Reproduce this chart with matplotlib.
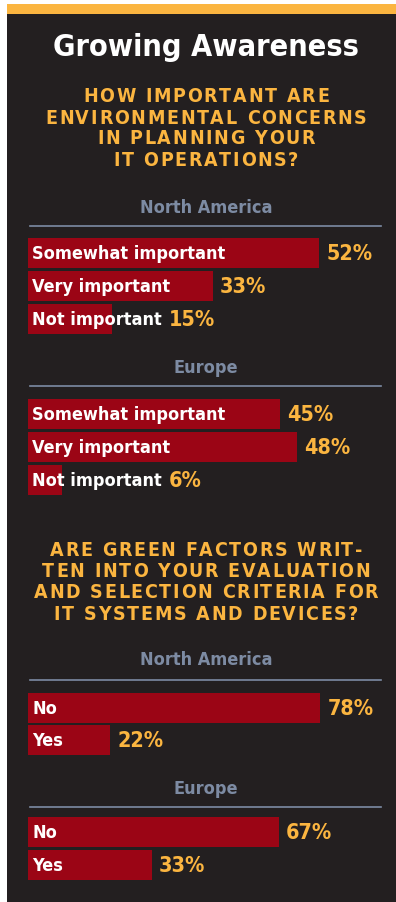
import matplotlib
matplotlib.use('Agg')
import matplotlib.pyplot as plt
from matplotlib.patches import Rectangle
from matplotlib import font_manager

# data
q1_lines = ["HOW IMPORTANT ARE", "ENVIRONMENTAL CONCERNS", "IN PLANNING YOUR", "IT OPERATIONS?"]
q1_labels = ["Somewhat important", "Very important", "Not important"]
q1_north_america = [52, 33, 15]
q1_europe = [45, 48, 6]

q2_lines = ["ARE GREEN FACTORS WRIT-", "TEN INTO YOUR EVALUATION",
            "AND SELECTION CRITERIA FOR", "IT SYSTEMS AND DEVICES?"]
q2_labels = ["No", "Yes"]
q2_north_america = [78, 22]
q2_europe = [67, 33]

DARK = '#231f20'
YELLOW = '#fbb540'
RED = '#9b0515'
GREY = '#7d8ba3'

fonts = font_manager.fontManager.ttflist
has_cond = any(f.name == 'DejaVu Sans' and f.stretch == 'condensed' for f in fonts)
plt.rcParams['font.family'] = ['DejaVu Sans']
plt.rcParams['font.stretch'] = 'condensed' if has_cond else 'normal'

W, H = 396, 903
fig = plt.figure(figsize=(W / 100, H / 100), dpi=100, facecolor='white')
renderer = fig.canvas.get_renderer()

def fx(px):
    return px / W

def fy(py):
    return 1 - py / H

# panel + top stripe
fig.patches.append(Rectangle((fx(7), 0), fx(389), fy(15), transform=fig.transFigure,
                             facecolor=DARK, edgecolor='none', zorder=-2))
fig.patches.append(Rectangle((fx(7), fy(15)), fx(389), 10 / H, transform=fig.transFigure,
                             facecolor=YELLOW, edgecolor='none', zorder=-2))

fig.text(fx(206), fy(47), "Growing Awareness", color='white', fontsize=22,
         fontweight='bold', ha='center', va='center')

# letter-spaced question lines, placed char by char
def spaced_line(text, xc, y, spacing, **kw):
    widths = []
    for ch in text:
        t = fig.text(0, 0, ch if ch != ' ' else 'I', **kw)
        w = t.get_window_extent(renderer).width
        widths.append(w)
        t.remove()
    total = sum(widths) + spacing * (len(text) - 1)
    x = xc - total / 2
    for ch, w in zip(text, widths):
        if ch != ' ':
            fig.text(fx(x), fy(y), ch, ha='left', va='center', **kw)
        x += w + spacing

qkw = dict(color=YELLOW, fontsize=14, fontweight='bold')
for i, line in enumerate(q1_lines):
    spaced_line(line, 206, 97 + i * 21, 1.7, **qkw)
for i, line in enumerate(q2_lines):
    spaced_line(line, 206, 551 + i * 21, 1.7, **qkw)

def header(name, y_text, y_line):
    fig.text(fx(206), fy(y_text), name, color=GREY, fontsize=13, fontweight='bold',
             ha='center', va='center')
    fig.add_artist(plt.Line2D([fx(30), fx(381)], [fy(y_line), fy(y_line)],
                              color=GREY, lw=1.2, transform=fig.transFigure))

header("North America", 208, 227)
header("Europe", 368, 387)
header("North America", 660, 681)
header("Europe", 789, 808)

axes_list = []

def group(labels, values, top, pitch, xmax):
    n = len(values)
    ax = fig.add_axes([fx(28), fy(top + n * pitch), fx(355), n * pitch / H])
    ax.set_xlim(0, xmax)
    ax.set_ylim(n - 0.5, -0.5)
    ax.axis('off')
    ypos = list(range(n))
    ax.barh(ypos, values, height=0.91, color=RED, left=0)
    texts = []
    for i, lab in enumerate(labels):
        t = ax.annotate(lab, (0, i), xytext=(4, 0), textcoords='offset pixels',
                        color='white', fontsize=13, fontweight='bold', va='center')
        texts.append(t)
    axes_list.append((ax, values, texts))

group(q1_labels, q1_north_america, 237.5, 33, 63.4)
group(q1_labels, q1_europe, 398.5, 33, 63.4)
group(q2_labels, q2_north_america, 692.5, 32.5, 94.7)
group(q2_labels, q2_europe, 817, 32.5, 94.7)

fig.canvas.draw()
for ax, values, texts in axes_list:
    inv = ax.transData.inverted()
    for i, (v, t) in enumerate(zip(values, texts)):
        bar_end = ax.transData.transform((v, i))[0]
        text_end = t.get_window_extent(renderer).x1
        x_px = max(bar_end, text_end) + 7
        x_data = inv.transform((x_px, 0))[0]
        ax.text(x_data, i, f"{v}%", color=YELLOW, fontsize=15.5, fontweight='bold',
                va='center', ha='left', clip_on=False)

fig.savefig('out.png', dpi=100, facecolor='white')
